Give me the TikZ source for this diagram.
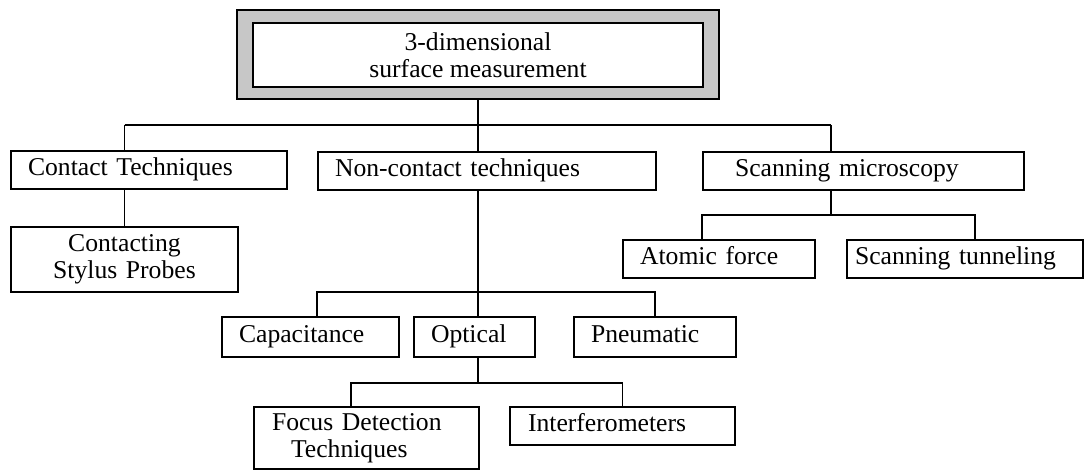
\documentclass[tikz,border=0pt]{standalone}
\usepackage{fontspec}
\setmainfont{Liberation Serif}
\usetikzlibrary{positioning}

\begin{document}
\begin{tikzpicture}[x=0.02cm, y=-0.02cm,
  box/.style={draw, line width=1.1pt, inner ysep=0pt, inner xsep=0.34cm, align=left,
    font=\fontsize{14.6}{15.4}\selectfont},
  onerow/.style={box, minimum height=0.76cm, text height=0.72em, text depth=0.12em},
  link/.style={line width=1pt}]
\useasboundingbox (0,0) rectangle (1085,473);
% top box with grey frame
\node[box, line width=1.3pt, fill=black!22, minimum width=9.64cm, minimum height=1.78cm] (frame) at (478,54.5) {};
\node[box, line width=1.3pt, fill=white, align=center, minimum width=9cm, minimum height=1.28cm] (top) at (478,55) {3-dimensional\\surface measurement};
% first level
\node[onerow, text width=4.84cm] (contact) at (149,170) {Contact Techniques};
\node[onerow, text width=6.08cm] (noncontact) at (487,171) {Non-contact techniques};
\node[onerow, inner xsep=0.64cm, text width=5.14cm] (scanning) at (863.5,171) {Scanning microscopy};
% second level
\node[box, align=center, text width=3.86cm, minimum height=1.3cm] (stylus) at (124.5,259.5) {Contacting\\Stylus Probes};
\node[onerow, text width=3.16cm] (atomic) at (719,259) {Atomic force};
\node[onerow, inner xsep=0.16cm, text width=4.40cm] (tunneling) at (965,259) {Scanning tunneling};
\node[onerow, minimum height=0.8cm, text width=2.86cm] (capacitance) at (310.5,337) {Capacitance};
\node[onerow, minimum height=0.8cm, text width=1.74cm] (optical) at (474.5,337) {Optical};
\node[onerow, minimum height=0.8cm, text width=2.56cm] (pneumatic) at (655,337) {Pneumatic};
% third level
\node[box, inner xsep=0.36cm, text width=3.78cm, minimum height=1.24cm] (focus) at (366.5,438) {Focus Detection\\\hspace*{0.38cm}Techniques};
\node[onerow, inner xsep=0.36cm, text width=3.78cm] (interf) at (622.5,426) {Interferometers};
% junctions
\coordinate (j0) at (478,125);
\coordinate (j3) at (831,125);
\coordinate (j4) at (831,215);
\coordinate (j6) at (975,215);
\coordinate (j7) at (478,292);
\coordinate (j8) at (478,383);
\coordinate (j9) at (351,383);
% connectors
\draw[link] (frame.south) -- (j0);
\draw[link] (j0 -| stylus) -- (j3);
\draw[link] (j0 -| stylus) -- (contact.north -| stylus);
\draw[link] (contact.south -| stylus) -- (stylus.north);
\draw[link] (j0) -- (noncontact.north -| j0);
\draw[link] (j3) -- (scanning.north -| j3);
\draw[link] (scanning.south -| j3) -- (j4);
\draw[link] (atomic.north -| scanning.west) -- (j4 -| scanning.west) -- (j6) -- (j6 |- tunneling.north);
\draw[link] (noncontact.south -| j0) -- (j7);
\draw[link] (capacitance.north -| noncontact.west) -- (j7 -| noncontact.west) -- (j7 -| pneumatic) -- (pneumatic.north);
\draw[link] (j7) -- (optical.north -| j7);
\draw[link] (optical.south -| j7) -- (j8);
\draw[link] (focus.north -| j9) -- (j9) -- (j8 -| interf) -- (interf.north);
\end{tikzpicture}
\end{document}
